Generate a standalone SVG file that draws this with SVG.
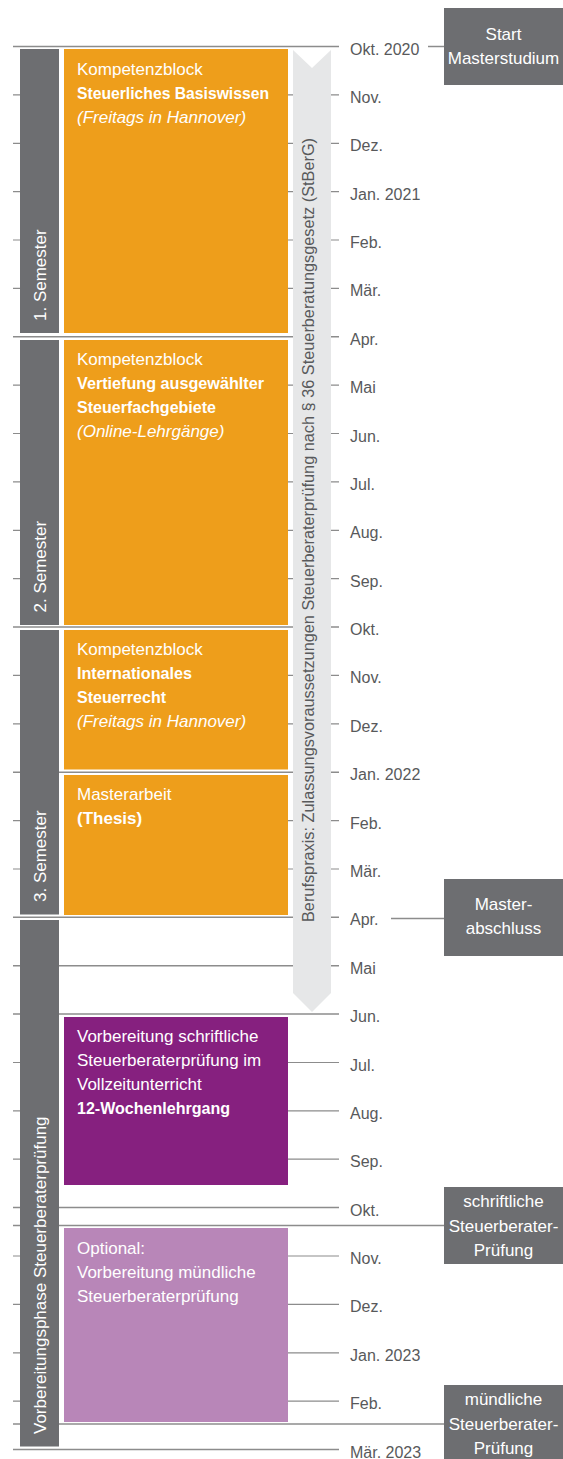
<svg xmlns="http://www.w3.org/2000/svg" width="563" height="1459" viewBox="0 0 563 1459">
<style>
text{font-family:"Liberation Sans",Arial,sans-serif}
.ln{fill:none;stroke:#8c8c8c;stroke-width:1.2}
.lnw{fill:none;stroke:#8c8c8c;stroke-width:1.5}
.bar{fill:#6d6e71}
.or{fill:#ee9e1b}
.pu{fill:#86207f}
.lp{fill:#b886b8}
.mo{font-size:16px;fill:#58595b}
.bt{font-size:17px;fill:#fff}
.b{font-weight:bold}
.i{font-style:italic}
.vt{font-size:17px;fill:#fff}
.gb{font-size:17px;fill:#fff;text-anchor:middle}
</style>
<g id="grid">
<path class="lnw" d="M13 46.5H339"/>
<path class="ln" d="M13 94.9H59M288 94.9H339"/>
<path class="ln" d="M13 143.3H59M288 143.3H339"/>
<path class="ln" d="M13 191.6H59M288 191.6H339"/>
<path class="ln" d="M13 240H59M288 240H339"/>
<path class="ln" d="M13 288.4H59M288 288.4H339"/>
<path class="lnw" d="M13 336.8H339"/>
<path class="ln" d="M13 385.2H59M288 385.2H339"/>
<path class="ln" d="M13 433.5H59M288 433.5H339"/>
<path class="ln" d="M13 481.9H59M288 481.9H339"/>
<path class="ln" d="M13 530.3H59M288 530.3H339"/>
<path class="ln" d="M13 578.7H59M288 578.7H339"/>
<path class="lnw" d="M13 627.1H339"/>
<path class="ln" d="M13 675.4H59M288 675.4H339"/>
<path class="ln" d="M13 723.8H59M288 723.8H339"/>
<path class="lnw" d="M13 772.2H339"/>
<path class="ln" d="M13 820.6H59M288 820.6H339"/>
<path class="ln" d="M13 869H59M288 869H339"/>
<path class="lnw" d="M13 917.3H339"/>
<path class="lnw" d="M13 965.7H339"/>
<path class="lnw" d="M13 1014.1H339"/>
<path class="ln" d="M13 1062.5H59M288 1062.5H339"/>
<path class="ln" d="M13 1110.9H59M288 1110.9H339"/>
<path class="ln" d="M13 1159.2H59M288 1159.2H339"/>
<path class="lnw" d="M13 1207.6H339"/>
<path class="ln" d="M13 1256H59M288 1256H339"/>
<path class="ln" d="M13 1304.4H59M288 1304.4H339"/>
<path class="ln" d="M13 1352.8H59M288 1352.8H339"/>
<path class="ln" d="M13 1401.1H59M288 1401.1H339"/>
<path class="lnw" d="M13 1449.5H339"/>
</g>
<g id="connectors">
<path class="lnw" d="M428 46.5H444"/>
<path class="lnw" d="M391 918.5H444"/>
<path class="lnw" d="M13 1225.5H444"/>
<path class="lnw" d="M13 1424H444"/>
</g>
<g id="months">
<text class="mo" x="350" y="54.5">Okt. 2020</text>
<text class="mo" x="350" y="102.9">Nov.</text>
<text class="mo" x="350" y="151.3">Dez.</text>
<text class="mo" x="350" y="199.6">Jan. 2021</text>
<text class="mo" x="350" y="248">Feb.</text>
<text class="mo" x="350" y="296.4">Mär.</text>
<text class="mo" x="350" y="344.8">Apr.</text>
<text class="mo" x="350" y="393.2">Mai</text>
<text class="mo" x="350" y="441.5">Jun.</text>
<text class="mo" x="350" y="489.9">Jul.</text>
<text class="mo" x="350" y="538.3">Aug.</text>
<text class="mo" x="350" y="586.7">Sep.</text>
<text class="mo" x="350" y="635.1">Okt.</text>
<text class="mo" x="350" y="683.4">Nov.</text>
<text class="mo" x="350" y="731.8">Dez.</text>
<text class="mo" x="350" y="780.2">Jan. 2022</text>
<text class="mo" x="350" y="828.6">Feb.</text>
<text class="mo" x="350" y="877">Mär.</text>
<text class="mo" x="350" y="925.3">Apr.</text>
<text class="mo" x="350" y="973.7">Mai</text>
<text class="mo" x="350" y="1022.1">Jun.</text>
<text class="mo" x="350" y="1070.5">Jul.</text>
<text class="mo" x="350" y="1118.9">Aug.</text>
<text class="mo" x="350" y="1167.2">Sep.</text>
<text class="mo" x="350" y="1215.6">Okt.</text>
<text class="mo" x="350" y="1264">Nov.</text>
<text class="mo" x="350" y="1312.4">Dez.</text>
<text class="mo" x="350" y="1360.8">Jan. 2023</text>
<text class="mo" x="350" y="1409.1">Feb.</text>
<text class="mo" x="350" y="1457.5">Mär. 2023</text>
</g>
<g id="arrow-berufspraxis">
<path d="M293 50L312 68L331 50V993L312 1012L293 993Z" fill="#e6e7e8"/>
<text class="mo" transform="translate(314,922) rotate(-90)" textLength="784" lengthAdjust="spacingAndGlyphs">Berufspraxis: Zulassungsvoraussetzungen Steuerberaterprüfung nach § 36 Steuerberatungsgesetz (StBerG)</text>
</g>
<g id="semester1">
<rect class="bar" x="20" y="49" width="39" height="284"/>
<text class="vt" transform="translate(45.5,321) rotate(-90)">1. Semester</text>
</g>
<g id="semester2">
<rect class="bar" x="20" y="340" width="39" height="285"/>
<text class="vt" transform="translate(45.5,612.5) rotate(-90)">2. Semester</text>
</g>
<g id="semester3">
<rect class="bar" x="20" y="630" width="39" height="284.5"/>
<text class="vt" transform="translate(45.5,902) rotate(-90)">3. Semester</text>
</g>
<g id="vorbereitungsphase">
<rect class="bar" x="20" y="920" width="39" height="526.5"/>
<text class="vt" transform="translate(45.5,1434) rotate(-90)">Vorbereitungsphase Steuerberaterprüfung</text>
</g>
<g id="block1">
<rect class="or" x="64" y="49" width="224" height="284"/>
<text class="bt" x="77" y="75">Kompetenzblock</text>
<text class="bt b" x="77" y="99" textLength="192" lengthAdjust="spacingAndGlyphs">Steuerliches Basiswissen</text>
<text class="bt i" x="77" y="123">(Freitags in Hannover)</text>
</g>
<g id="block2">
<rect class="or" x="64" y="340" width="224" height="285"/>
<text class="bt" x="77" y="364.5">Kompetenzblock</text>
<text class="bt b" x="77" y="388.5" textLength="187" lengthAdjust="spacingAndGlyphs">Vertiefung ausgewählter</text>
<text class="bt b" x="77" y="412.5" textLength="139" lengthAdjust="spacingAndGlyphs">Steuerfachgebiete</text>
<text class="bt i" x="77" y="436.5">(Online-Lehrgänge)</text>
</g>
<g id="block3">
<rect class="or" x="64" y="630" width="224" height="139.5"/>
<text class="bt" x="77" y="654.5">Kompetenzblock</text>
<text class="bt b" x="77" y="678.5" textLength="115" lengthAdjust="spacingAndGlyphs">Internationales</text>
<text class="bt b" x="77" y="702.5" textLength="89" lengthAdjust="spacingAndGlyphs">Steuerrecht</text>
<text class="bt i" x="77" y="726.5">(Freitags in Hannover)</text>
</g>
<g id="masterarbeit">
<rect class="or" x="64" y="775" width="224" height="140"/>
<text class="bt" x="77" y="799.5">Masterarbeit</text>
<text class="bt b" x="77" y="823.5">(Thesis)</text>
</g>
<g id="vorbereitung-schriftlich">
<rect class="pu" x="64" y="1017" width="224" height="168"/>
<text class="bt" x="77" y="1041.5">Vorbereitung schriftliche</text>
<text class="bt" x="77" y="1065.5">Steuerberaterprüfung im</text>
<text class="bt" x="77" y="1089.5">Vollzeitunterricht</text>
<text class="bt b" x="77" y="1113.5" textLength="153" lengthAdjust="spacingAndGlyphs">12-Wochenlehrgang</text>
</g>
<g id="vorbereitung-muendlich">
<rect class="lp" x="64" y="1228" width="224" height="194"/>
<text class="bt" x="77" y="1254">Optional:</text>
<text class="bt" x="77" y="1278">Vorbereitung mündliche</text>
<text class="bt" x="77" y="1302">Steuerberaterprüfung</text>
</g>
<g id="start-masterstudium">
<rect class="bar" x="444" y="8" width="119" height="77"/>
<text class="gb" x="503.5" y="40">Start</text>
<text class="gb" x="503.5" y="63.5">Masterstudium</text>
</g>
<g id="masterabschluss">
<rect class="bar" x="444" y="879" width="119" height="77"/>
<text class="gb" x="503.5" y="910">Master-</text>
<text class="gb" x="503.5" y="933.5">abschluss</text>
</g>
<g id="schriftliche-pruefung">
<rect class="bar" x="444" y="1187" width="119" height="77"/>
<text class="gb" x="503.5" y="1207">schriftliche</text>
<text class="gb" x="503.5" y="1231.5">Steuerberater-</text>
<text class="gb" x="503.5" y="1255.5">Prüfung</text>
</g>
<g id="muendliche-pruefung">
<rect class="bar" x="444" y="1385" width="119" height="74"/>
<text class="gb" x="503.5" y="1405">mündliche</text>
<text class="gb" x="503.5" y="1430">Steuerberater-</text>
<text class="gb" x="503.5" y="1453.5">Prüfung</text>
</g>
</svg>
